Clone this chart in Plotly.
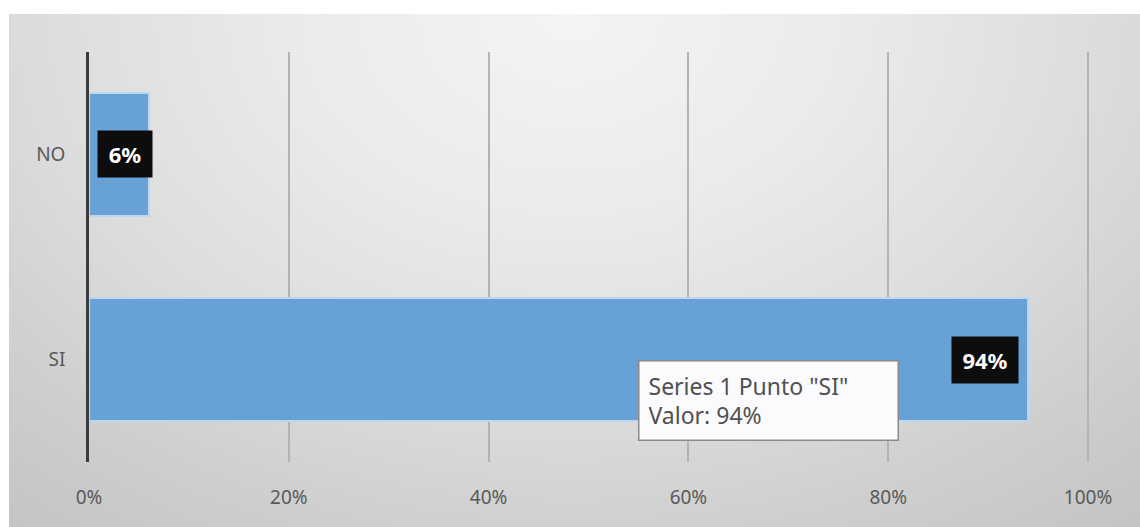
import plotly.graph_objects as go

# Survey answers and their shares (percent)
categories = ["SI", "NO"]
shares = [94, 6]
x_ticks = [0, 20, 40, 60, 80, 100]
series_name = "Series 1"

W, H = 1140, 527
BAR_COLOR = "#67a1d6"
TEXT_GRAY = "#595959"
FONT = "Noto Sans"

# pixel geometry of the plotting area
px_left, px_unit = 89, 9.99
x_max = 102
px_top, px_bottom = 52, 462

fig = go.Figure()

# soft radial backdrop, brightest near the top centre
bg_x = [-330, 1470, 1470, -330, -330]
bg_y = [-630, -630, 670, 670, -630]
fig.add_trace(go.Scatter(
    x=bg_x, y=bg_y, mode="lines", fill="toself",
    line=dict(width=0, color="rgba(0,0,0,0)"),
    fillgradient=dict(type="radial", colorscale=[
        [0.0, "#f4f4f4"], [0.3, "#ebebeb"], [0.6, "#dcdcdc"],
        [0.8, "#cfcfcf"], [1.0, "#c4c4c4"]]),
    hoverinfo="skip", showlegend=False, xaxis="x", yaxis="y",
))

fig.add_trace(go.Bar(
    x=shares, y=categories, orientation="h", name=series_name,
    marker=dict(color=BAR_COLOR, line=dict(color="#bcd7ef", width=2)),
    width=0.6, hoverinfo="skip", showlegend=False,
    xaxis="x2", yaxis="y2",
))

# value labels in dark boxes near the bar ends
label_shift = {"SI": -9, "NO": 4}
label_width = {"SI": 50, "NO": 38}
for cat, val in zip(categories, shares):
    fig.add_annotation(
        x=val, y=cat, xref="x2", yref="y2", text=f"<b>{val}%</b>",
        showarrow=False, xanchor="right", yanchor="middle",
        xshift=label_shift[cat], width=label_width[cat], height=30,
        bgcolor="#0d0d0d", borderpad=8,
        font=dict(family=FONT, size=22, color="white"),
    )

# point tooltip for the SI bar
si_val = shares[categories.index("SI")]
fig.add_annotation(
    x=55, y="SI", xref="x2", yref="y2",
    text=f'{series_name} Punto "SI"<br>Valor: {si_val}%',
    showarrow=False, xanchor="left", yanchor="top", align="left",
    width=240, height=60, borderpad=9,
    bgcolor="#fbfbfd", bordercolor="#8a8a8a", borderwidth=1.5,
    font=dict(family=FONT, size=23, color="#505050"),
)

fig.update_layout(
    width=W, height=H, autosize=False,
    margin=dict(l=0, r=0, t=0, b=0, autoexpand=False),
    paper_bgcolor="white", plot_bgcolor="rgba(0,0,0,0)",
    xaxis=dict(domain=[9 / W, 1], range=[9, W], visible=False, fixedrange=True),
    yaxis=dict(domain=[0, (H - 14) / H], range=[H, 14], visible=False, fixedrange=True),
    xaxis2=dict(
        domain=[px_left / W, (px_left + px_unit * x_max) / W],
        range=[0, x_max], anchor="y2",
        tickvals=x_ticks, ticktext=[f"{t}%" for t in x_ticks],
        showgrid=True, gridcolor="#b3b3b3", gridwidth=1.5,
        zeroline=False, showline=False, ticks="",
        ticklabelstandoff=22,
        tickfont=dict(family=FONT, size=19, color=TEXT_GRAY),
    ),
    yaxis2=dict(
        domain=[(H - px_bottom) / H, (H - px_top) / H], anchor="x2",
        type="category", categoryorder="array", categoryarray=categories,
        range=[-0.5, 1.5],
        showline=True, linecolor="#3c3c3c", linewidth=2.5,
        showgrid=False, zeroline=False, ticks="",
        ticklabelstandoff=17,
        tickfont=dict(family=FONT, size=19, color=TEXT_GRAY),
    ),
)

fig.write_html("out.html")
